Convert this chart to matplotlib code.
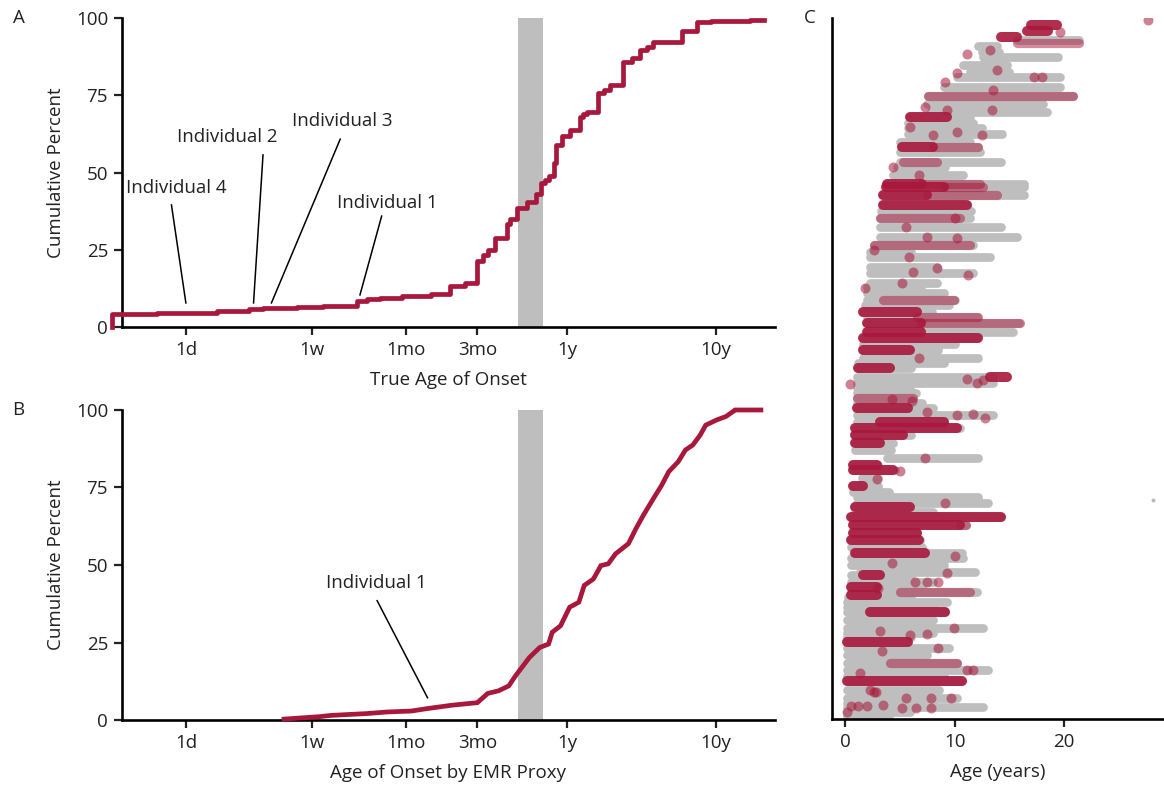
import numpy as np
import matplotlib.pyplot as plt

plt.rcParams['font.family'] = ['Open Sans', 'DejaVu Sans']

# cumulative percent of onset, ages in days (true onset)
true_onset_days = [0.318, 0.318, 0.643, 1.63, 2.67, 3.30, 5.57, 8.3, 14.2, 16.6, 20.1, 28.2,
                   44.2, 59.7, 75.6, 91, 100, 108, 119, 143, 150, 169, 197, 226, 243, 260,
                   275, 296, 308, 340, 381, 443, 470, 498, 586, 650, 711, 863, 1000, 1127,
                   1250, 1387, 2166, 2708, 3388, 6227, 7670]
true_onset_pct = [0, 4.2, 4.6, 5.2, 5.8, 6.1, 6.4, 6.9, 8.4, 9.0, 9.5, 10.0,
                  10.7, 13.3, 14.1, 21.4, 23.3, 24.8, 28.9, 33.5, 35.0, 38.4, 40.4, 43.0, 46.5, 47.6,
                  49.0, 53.2, 58.9, 61.9, 63.8, 67.9, 68.8, 69.7, 75.6, 76.8, 78.3, 85.7, 87.0, 89.5,
                  90.5, 92.3, 95.9, 98.6, 99.0, 99.5, 99.5]

# same, onset estimated from the EMR proxy
proxy_onset_days = [4.57, 7.93, 9.48, 16.6, 22.5, 32.7, 42.0, 61.8, 91, 107, 126, 148, 164,
                    204, 239, 274, 290, 330, 380, 438, 476, 549, 616, 691, 773, 944, 1059,
                    1187, 1368, 1577, 1762, 2038, 2281, 2555, 2865, 3120, 3700, 4270, 4766,
                    4910, 7330]
proxy_onset_pct = [0.3, 1.1, 1.5, 2.1, 2.6, 2.9, 3.7, 4.8, 5.6, 8.6, 9.4, 11.0, 14.2,
                   20.2, 23.4, 24.5, 28.3, 30.4, 36.4, 38.0, 43.4, 45.5, 49.8, 50.4, 53.6, 56.9, 61.7,
                   66.0, 70.9, 75.7, 80.1, 83.3, 87.1, 88.7, 91.9, 95.1, 96.8, 97.9, 99.5,
                   100, 100]

tick_days = [1, 7, 30, 91, 365, 3650]
tick_labels = ['1d', '1w', '1mo', '3mo', '1y', '10y']
band_days = (172, 250)

# labelled individuals: (name, text position, line start, line end) in (days, percent)
labels_a = [('Individual 4', (0.86, 45.0), (0.80, 39.5), (1.0, 7.8)),
            ('Individual 2', (1.89, 61.5), (3.30, 55.7), (2.85, 7.8)),
            ('Individual 3', (11.3, 66.7), (10.9, 60.8), (3.76, 7.8)),
            ('Individual 1', (22.5, 40.1), (20.7, 35.9), (14.8, 10.4))]
labels_b = [('Individual 1', (19.0, 44.2), (19.3, 38.5), (42.1, 7.2))]

# follow-up per individual: (row, first age, last age) in years
gray_spans = [(96.9, 15.7, 21.3), (96.0, 12.1, 13.9), (95.2, 12.5, 14.0), (94.4, 12.6, 19.4),
              (93.3, 10.8, 14.8), (92.3, 11.4, 15.0), (91.6, 10.2, 19.6), (90.2, 9.0, 19.6),
              (88.9, 7.6, 20.8), (87.7, 7.5, 18.1), (86.6, 7.8, 18.4), (85.9, 5.9, 11.4),
              (85.0, 5.7, 11.7), (84.3, 5.7, 12.5), (83.5, 5.7, 14.3), (82.3, 5.0, 11.4),
              (81.6, 5.2, 12.1), (80.9, 5.0, 12.3), (79.5, 5.0, 14.2), (78.7, 4.7, 9.1),
              (77.6, 4.4, 10.8), (76.3, 3.8, 16.3), (75.9, 3.7, 16.3), (74.8, 3.5, 16.3),
              (73.3, 3.5, 11.1), (72.4, 3.3, 11.5), (71.5, 3.2, 11.4), (70.2, 3.2, 14.2),
              (68.8, 3.2, 15.7), (67.6, 2.6, 11.7), (66.6, 2.3, 6.0), (65.9, 2.3, 13.2),
              (64.5, 2.3, 8.4), (63.6, 2.3, 11.7), (62.2, 2.3, 8.4), (61.6, 2.0, 6.9),
              (60.7, 2.0, 9.0), (59.8, 2.0, 10.0), (59.0, 1.8, 9.5), (58.1, 1.6, 7.9),
              (57.3, 2.0, 12.0), (56.5, 2.0, 15.9), (55.2, 2.0, 15.3), (54.4, 1.6, 12.0),
              (53.5, 1.6, 10.0), (52.6, 1.6, 8.5), (51.5, 1.6, 12.1), (50.8, 1.2, 9.0),
              (50.1, 1.2, 6.0), (48.8, 1.1, 13.5), (47.9, 1.1, 13.5), (47.2, 1.1, 5.9),
              (46.5, 1.1, 6.5), (45.8, 1.1, 6.2), (45.1, 1.1, 7.0), (44.4, 1.1, 8.0),
              (43.4, 1.1, 13.5), (42.4, 1.1, 9.0), (41.5, 0.9, 10.5), (40.5, 0.9, 6.0),
              (39.4, 0.9, 4.4), (38.4, 0.9, 4.2), (37.2, 3.8, 12.1), (36.2, 0.7, 3.0),
              (35.5, 0.7, 4.6), (34.4, 1.5, 3.0), (33.2, 0.7, 3.0), (32.4, 0.7, 4.0),
              (31.7, 1.1, 12.1), (30.8, 1.1, 13.0), (30.2, 0.9, 5.9), (29.5, 0.9, 8.0),
              (28.8, 0.5, 14.2), (27.7, 0.7, 11.0), (26.5, 0.7, 6.6), (25.5, 0.5, 6.8),
              (24.6, 0.5, 7.0), (23.7, 0.9, 10.7), (23.0, 0.5, 10.8), (22.0, 0.5, 9.0),
              (21.0, 1.4, 11.9), (20.5, 0.5, 6.0), (19.5, 0.5, 8.0), (18.8, 0.5, 7.0),
              (18.1, 0.5, 12.0), (17.4, 0.3, 6.0), (16.7, 0.2, 9.3), (16.0, 0.2, 8.0),
              (15.3, 0.2, 9.1), (14.1, 0.2, 8.0), (13.0, 0.2, 12.6), (12.3, 0.2, 8.0),
              (11.7, 0.2, 6.0), (11.0, 0.2, 5.6), (10.1, 0.2, 9.5), (9.1, 0.2, 7.5),
              (8.0, 0.2, 10.2), (7.0, 0.2, 13.0), (6.2, 0.2, 9.0), (5.4, 0.2, 10.7),
              (4.1, 0.2, 8.6), (3.0, 0.2, 10.2), (2.3, 0.2, 8.0), (1.7, 0.2, 12.6),
              (1.0, 0.2, 5.9), (0.5, 0.2, 4.0)]

# stretches with the diagnosis recorded at (nearly) every visit
red_dense = [(99.0, 17.0, 19.3), (98.2, 16.6, 18.5), (97.3, 14.2, 15.7), (85.9, 5.9, 9.3),
             (81.6, 5.2, 8.0), (76.3, 3.8, 7.0), (75.9, 3.7, 9.0), (74.8, 3.5, 7.5),
             (73.3, 3.5, 11.1), (58.1, 1.6, 6.6), (56.5, 2.0, 6.9), (55.2, 2.0, 6.9),
             (54.4, 1.6, 12.1), (52.6, 1.6, 5.9), (50.1, 1.2, 4.1), (48.8, 13.2, 14.8),
             (44.4, 1.1, 5.7), (42.4, 3.2, 9.0), (41.5, 0.9, 10.2), (40.5, 0.9, 5.3),
             (39.4, 0.9, 3.2), (36.2, 0.7, 2.9), (35.5, 0.7, 4.4), (33.2, 0.7, 1.6),
             (30.2, 0.9, 5.9), (28.8, 0.5, 14.2), (27.7, 0.7, 10.5), (26.5, 0.7, 6.6),
             (25.5, 0.5, 6.7), (23.7, 0.9, 7.3), (20.5, 1.6, 3.2), (18.8, 0.5, 2.9),
             (17.7, 0.5, 2.9), (15.3, 2.3, 9.1), (11.0, 0.2, 5.7), (5.4, 0.2, 10.7)]

# stretches with the diagnosis recorded at some visits
red_sparse = [(96.4, 15.7, 21.3), (88.9, 7.6, 20.8), (81.6, 8.0, 12.1), (79.5, 5.3, 8.4),
              (76.3, 7.0, 12.3), (75.9, 9.0, 12.6), (74.8, 7.5, 13.9), (71.5, 3.2, 10.5),
              (67.6, 2.6, 11.4), (59.8, 3.5, 9.9), (57.3, 6.6, 12.1), (56.5, 6.9, 16.0),
              (45.8, 1.1, 6.2), (27.7, 10.5, 11.0), (18.1, 5.0, 11.4), (8.0, 4.1, 10.2)]

# single visits with the diagnosis: (age, row)
red_visits = [(11.1, 94.9), (13.2, 95.4), (13.9, 92.6), (10.2, 92.1), (17.2, 91.6), (18.0, 91.6),
              (13.5, 89.7), (9.1, 90.9), (13.4, 86.9), (7.3, 87.3), (9.3, 86.9), (5.9, 84.5),
              (8.0, 83.3), (10.2, 83.8), (12.5, 83.3), (6.7, 77.6), (4.4, 78.8), (19.6, 98.0),
              (11.2, 63.3), (8.4, 64.3), (5.8, 65.9), (5.6, 70.2), (10.0, 71.5), (7.5, 68.8),
              (10.2, 68.6), (2.6, 66.9), (1.8, 61.5), (5.2, 62.2), (6.7, 51.5), (6.2, 63.8),
              (0.46, 47.8), (11.1, 48.5), (12.0, 47.9), (12.6, 48.3), (7.3, 37.3), (10.2, 43.4),
              (11.7, 43.5), (12.8, 42.9), (9.1, 30.8), (5.0, 35.4), (2.9, 34.3), (4.3, 45.7),
              (6.1, 45.3), (7.5, 43.8), (10.0, 23.3), (4.3, 22.2), (9.3, 20.9), (6.4, 19.6),
              (7.5, 19.6), (8.5, 19.6), (3.0, 18.7), (9.9, 13.0), (3.2, 12.5), (5.9, 12.0),
              (7.5, 12.1), (3.4, 9.7), (8.5, 10.1), (1.4, 6.6), (11.1, 7.0), (11.7, 7.0),
              (2.3, 4.1), (2.6, 3.9), (2.8, 3.9), (5.6, 3.0), (7.8, 3.0), (9.7, 3.0),
              (0.5, 1.8), (1.2, 1.8), (2.0, 1.8), (3.5, 2.0), (5.2, 1.6), (6.5, 1.6),
              (7.8, 1.6), (0.2, 1.0), (27.6, 99.7)]
gray_visits = [(28.1, 31.2)]

RED = '#A8183C'
GRAY = '#BEBEBE'
TXT = '#222222'
FS = 13.5

fig = plt.figure(figsize=(11.64, 7.93), dpi=100)
ax_a = fig.add_axes([0.1048, 0.5876, 0.561, 0.3897])
ax_b = fig.add_axes([0.1048, 0.0920, 0.561, 0.3910])
ax_c = fig.add_axes([0.7148, 0.0933, 0.2852, 0.8840])


def style_axes(ax):
    for side in ['top', 'right']:
        ax.spines[side].set_visible(False)
    for side in ['left', 'bottom']:
        ax.spines[side].set_linewidth(1.9)
    ax.tick_params(direction='out', length=6, width=1.6, labelsize=FS,
                   colors=TXT, pad=4)


def onset_panel(ax, days, pct, xlabel, labels, steps=True):
    style_axes(ax)
    ax.axvspan(*band_days, color=GRAY, lw=0, zorder=1)
    if steps:
        ax.step(days, pct, where='post', color=RED, lw=3.4, zorder=3, clip_on=False)
    else:
        ax.plot(days, pct, color=RED, lw=3.4, zorder=3, clip_on=False,
                solid_joinstyle='miter')
    ax.set_xscale('log')
    ax.set_xlim(0.372, 9120)
    ax.set_ylim(0, 100)
    ax.set_xticks(tick_days)
    ax.set_xticklabels(tick_labels)
    ax.minorticks_off()
    ax.set_yticks([0, 25, 50, 75, 100])
    ax.set_xlabel(xlabel, fontsize=FS, color=TXT, labelpad=9)
    ax.set_ylabel('Cumulative Percent', fontsize=FS, color=TXT, labelpad=8)
    for name, txt, start, end in labels:
        ax.text(*txt, name, fontsize=FS, color=TXT, ha='center', va='center')
        ax.plot([start[0], end[0]], [start[1], end[1]], color='black', lw=1.1, zorder=4)


onset_panel(ax_a, true_onset_days, true_onset_pct, 'True Age of Onset', labels_a)
onset_panel(ax_b, proxy_onset_days, proxy_onset_pct, 'Age of Onset by EMR Proxy',
            labels_b, steps=False)

# visit timelines
style_axes(ax_c)
g = np.array(gray_spans)
ax_c.hlines(g[:, 0], g[:, 1], g[:, 2], color=GRAY, lw=6.3, capstyle='round', zorder=1)
gv = np.array(gray_visits)
ax_c.scatter(gv[:, 0], gv[:, 1], s=8, color='#B8B8C8', lw=0, zorder=1)
rs = np.array(red_sparse)
ax_c.hlines(rs[:, 0], rs[:, 1], rs[:, 2], color=RED, alpha=0.5, lw=6.6,
            capstyle='round', zorder=2)
rd = np.array(red_dense)
ax_c.hlines(rd[:, 0], rd[:, 1], rd[:, 2], color=RED, alpha=0.9, lw=7.2,
            capstyle='round', zorder=3)
rv = np.array(red_visits)
ax_c.scatter(rv[:, 0], rv[:, 1], s=52, color=RED, alpha=0.55, lw=0, zorder=4)
ax_c.set_xlim(-1.19, 29.1)
ax_c.set_ylim(0, 100)
ax_c.set_xticks([0, 10, 20])
ax_c.set_yticks([])
ax_c.set_xlabel('Age (years)', fontsize=FS, color=TXT, labelpad=9)

for letter, x, y in [('A', 0.016, 0.977), ('B', 0.016, 0.483), ('C', 0.696, 0.977)]:
    fig.text(x, y, letter, fontsize=FS, color=TXT, ha='center', va='center')

fig.savefig('out.png', dpi=100)
